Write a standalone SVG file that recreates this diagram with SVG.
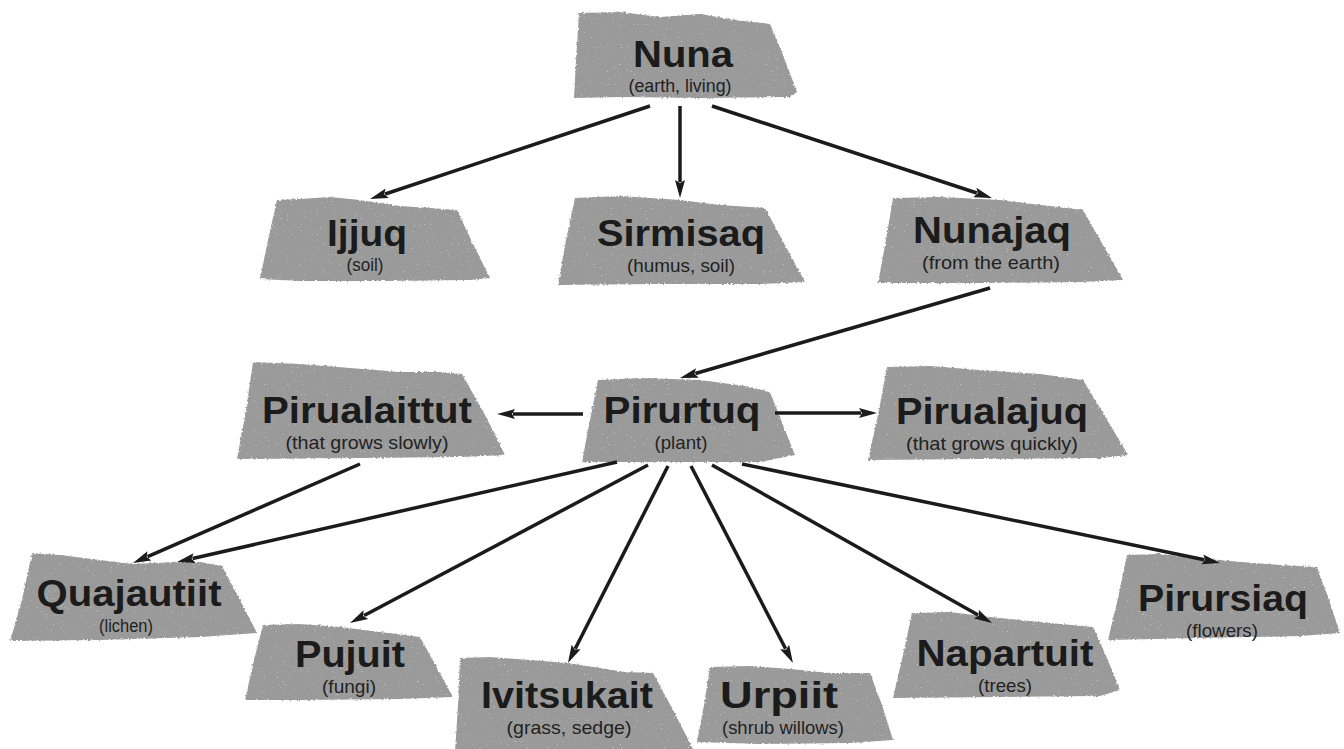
<svg xmlns="http://www.w3.org/2000/svg" width="1344" height="749" viewBox="0 0 1344 749">
  <defs>
    <style>
      .stone { fill: #9a9a9a; filter: url(#rough); }
      .title { font-family: "Liberation Sans", Arial, sans-serif; font-weight: bold; font-size: 36px; fill: #1b1b1b; text-anchor: middle; }
      .sub { font-family: "Liberation Sans", Arial, sans-serif; font-size: 19px; fill: #222; text-anchor: middle; }
      .link { stroke: #1b1b1b; stroke-width: 3.5; fill: none; marker-end: url(#head); }
    </style>
    <!-- torn edges plus light grain for the stone slabs -->
    <filter id="rough" x="-4%" y="-6%" width="108%" height="112%" color-interpolation-filters="sRGB">
      <feTurbulence type="fractalNoise" baseFrequency="0.45" numOctaves="2" seed="4" result="edge"/>
      <feDisplacementMap in="SourceGraphic" in2="edge" scale="3" xChannelSelector="R" yChannelSelector="G" result="torn"/>
      <feTurbulence type="fractalNoise" baseFrequency="0.7" numOctaves="1" seed="11" result="grain"/>
      <feColorMatrix in="grain" type="matrix" values="0 0 0 0 1  0 0 0 0 1  0 0 0 0 1  10 0 0 0 -6.9" result="specks"/>
      <feComposite in="specks" in2="torn" operator="in" result="specksIn"/>
      <feComponentTransfer in="specksIn" result="specksSoft">
        <feFuncA type="linear" slope="0.45"/>
      </feComponentTransfer>
      <feMerge>
        <feMergeNode in="torn"/>
        <feMergeNode in="specksSoft"/>
      </feMerge>
    </filter>
    <marker id="head" markerUnits="userSpaceOnUse" markerWidth="18" markerHeight="12" refX="0" refY="5" orient="auto" overflow="visible">
      <path d="M-2,0 L16,5 L-2,10 L1,5 Z" fill="#1b1b1b"/>
    </marker>
  </defs>

  <rect width="1344" height="749" fill="#ffffff"/>

  <g id="node-nuna">
    <path class="stone" d="M579,13 L620,12 L660,17 L700,14 L735,20 L770,24 L783,55 L797,92 L790,97 L700,98 L620,97 L574,98 L576,60 Z"/>
    <text class="title" x="683" y="67" textLength="100" lengthAdjust="spacingAndGlyphs">Nuna</text>
    <text class="sub" x="680" y="92" textLength="103" lengthAdjust="spacingAndGlyphs">(earth, living)</text>
  </g>

  <g id="node-ijjuq">
    <path class="stone" d="M277,200 L300,199 L330,197 L360,200 L400,206 L430,208 L457,210 L472,242 L490,278 L470,280 L380,281 L300,281 L260,279 L268,240 Z"/>
    <text class="title" x="367" y="246" textLength="80" lengthAdjust="spacingAndGlyphs">Ijjuq</text>
    <text class="sub" x="365" y="271" textLength="37" lengthAdjust="spacingAndGlyphs">(soil)</text>
  </g>

  <g id="node-sirmisaq">
    <path class="stone" d="M575,198 L620,196 L680,200 L720,205 L765,208 L785,245 L805,282 L760,284 L650,284 L558,285 L566,240 Z"/>
    <text class="title" x="681" y="246" textLength="168" lengthAdjust="spacingAndGlyphs">Sirmisaq</text>
    <text class="sub" x="681" y="272" textLength="108" lengthAdjust="spacingAndGlyphs">(humus, soil)</text>
  </g>

  <g id="node-nunajaq">
    <path class="stone" d="M893,198 L940,197 L1000,200 L1050,206 L1083,210 L1103,245 L1123,280 L1080,282 L980,283 L878,283 L886,240 Z"/>
    <text class="title" x="992" y="243" textLength="158" lengthAdjust="spacingAndGlyphs">Nunajaq</text>
    <text class="sub" x="991" y="269" textLength="138" lengthAdjust="spacingAndGlyphs">(from the earth)</text>
  </g>

  <g id="node-pirualaittut">
    <path class="stone" d="M253,362 L300,364 L350,368 L400,372 L440,372 L462,374 L485,415 L505,455 L460,457 L360,458 L237,459 L246,410 Z"/>
    <text class="title" x="367" y="423" textLength="210" lengthAdjust="spacingAndGlyphs">Pirualaittut</text>
    <text class="sub" x="367" y="449" textLength="163" lengthAdjust="spacingAndGlyphs">(that grows slowly)</text>
  </g>

  <g id="node-pirurtuq">
    <path class="stone" d="M598,380 L640,378 L700,380 L745,386 L770,392 L783,425 L795,455 L760,462 L680,462 L582,462 L590,420 Z"/>
    <text class="title" x="682" y="423" textLength="157" lengthAdjust="spacingAndGlyphs">Pirurtuq</text>
    <text class="sub" x="681" y="449" textLength="53" lengthAdjust="spacingAndGlyphs">(plant)</text>
  </g>

  <g id="node-pirualajuq">
    <path class="stone" d="M887,367 L930,366 L980,370 L1040,374 L1083,380 L1106,418 L1128,455 L1100,458 L980,459 L868,460 L878,415 Z"/>
    <text class="title" x="992" y="424" textLength="192" lengthAdjust="spacingAndGlyphs">Pirualajuq</text>
    <text class="sub" x="992" y="450" textLength="172" lengthAdjust="spacingAndGlyphs">(that grows quickly)</text>
  </g>

  <g id="node-quajautiit">
    <path class="stone" d="M32,553 L60,555 L100,560 L133,564 L175,562 L200,562 L222,566 L240,600 L257,633 L200,637 L100,640 L10,641 L22,600 Z"/>
    <text class="title" x="129" y="606" textLength="185" lengthAdjust="spacingAndGlyphs">Quajautiit</text>
    <text class="sub" x="126" y="632" textLength="54" lengthAdjust="spacingAndGlyphs">(lichen)</text>
  </g>

  <g id="node-pujuit">
    <path class="stone" d="M263,625 L300,624 L340,627 L380,632 L420,637 L437,668 L453,697 L400,699 L300,700 L245,700 L254,660 Z"/>
    <text class="title" x="350" y="667" textLength="110" lengthAdjust="spacingAndGlyphs">Pujuit</text>
    <text class="sub" x="349" y="693" textLength="54" lengthAdjust="spacingAndGlyphs">(fungi)</text>
  </g>

  <g id="node-ivitsukait">
    <path class="stone" d="M460,658 L490,657 L530,660 L567,663 L600,668 L625,672 L653,673 L673,710 L693,749 L600,752 L455,752 L458,705 Z"/>
    <text class="title" x="567" y="708" textLength="172" lengthAdjust="spacingAndGlyphs">Ivitsukait</text>
    <text class="sub" x="569" y="734" textLength="125" lengthAdjust="spacingAndGlyphs">(grass, sedge)</text>
  </g>

  <g id="node-urpiit">
    <path class="stone" d="M710,667 L750,666 L790,669 L830,673 L870,673 L882,705 L893,740 L850,743 L760,744 L697,742 L704,705 Z"/>
    <text class="title" x="779" y="708" textLength="118" lengthAdjust="spacingAndGlyphs">Urpiit</text>
    <text class="sub" x="783" y="734" textLength="122" lengthAdjust="spacingAndGlyphs">(shrub willows)</text>
  </g>

  <g id="node-napartuit">
    <path class="stone" d="M912,613 L950,612 L990,617 L1040,622 L1093,627 L1107,658 L1120,690 L1100,696 L1000,697 L893,698 L903,655 Z"/>
    <text class="title" x="1005" y="666" textLength="177" lengthAdjust="spacingAndGlyphs">Napartuit</text>
    <text class="sub" x="1005" y="692" textLength="54" lengthAdjust="spacingAndGlyphs">(trees)</text>
  </g>

  <g id="node-pirursiaq">
    <path class="stone" d="M1127,555 L1160,554 L1200,558 L1240,562 L1280,565 L1317,567 L1329,600 L1340,633 L1300,636 L1200,638 L1108,640 L1118,598 Z"/>
    <text class="title" x="1223" y="611" textLength="170" lengthAdjust="spacingAndGlyphs">Pirursiaq</text>
    <text class="sub" x="1222" y="637" textLength="72" lengthAdjust="spacingAndGlyphs">(flowers)</text>
  </g>

  <!-- connectors: each line stops at the arrowhead base, the marker carries on to the tip -->
  <g id="connectors">
    <line class="link" x1="650" y1="106" x2="385.2" y2="194"/>
    <line class="link" x1="680" y1="106" x2="680" y2="182"/>
    <line class="link" x1="712" y1="106" x2="976.8" y2="193"/>
    <line class="link" x1="990" y1="288" x2="695.4" y2="373.5"/>
    <line class="link" x1="583" y1="414" x2="513" y2="414"/>
    <line class="link" x1="775" y1="413" x2="861" y2="413"/>
    <line class="link" x1="360" y1="464" x2="147.6" y2="556.6"/>
    <line class="link" x1="617" y1="462" x2="192.6" y2="558.5"/>
    <line class="link" x1="648" y1="465" x2="364.1" y2="615.5"/>
    <line class="link" x1="668" y1="466" x2="575.2" y2="648.7"/>
    <line class="link" x1="691" y1="466" x2="785.6" y2="648.8"/>
    <line class="link" x1="712" y1="465" x2="978.1" y2="615.1"/>
    <line class="link" x1="742" y1="464" x2="1204.3" y2="559.8"/>
  </g>
</svg>
